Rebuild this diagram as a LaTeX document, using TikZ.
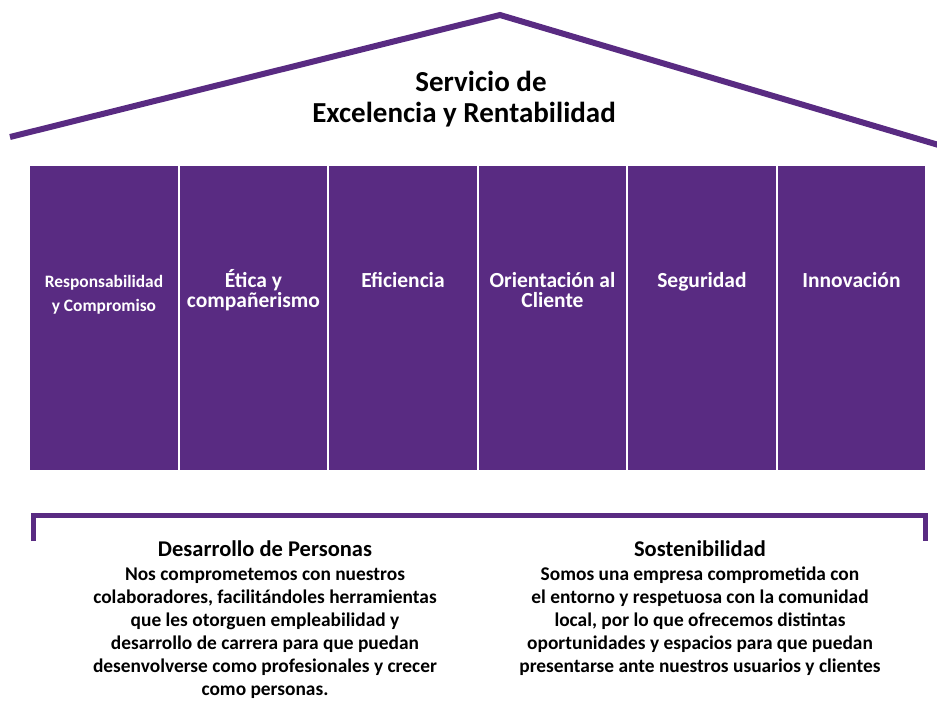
\documentclass[tikz,border=0pt]{standalone}
\usepackage{fontspec}
\setmainfont{Carlito}
\usetikzlibrary{positioning}
\definecolor{casa}{RGB}{89,43,130}
\begin{document}
\begin{tikzpicture}[x=1pt,y=-1pt,
  columna/.style={fill=casa,minimum width=147.5pt,minimum height=304pt,inner sep=0pt,anchor=north west},
  etiqueta/.style={text=white,align=center,anchor=north,inner sep=0pt,font=\bfseries\fontsize{21.5}{20}\selectfont},
  titulo/.style={align=center,inner sep=0pt,font=\bfseries\fontsize{22.5}{24}\selectfont},
  parrafo/.style={align=center,inner sep=0pt,anchor=north,font=\bfseries\fontsize{19.4}{23}\selectfont}]
\useasboundingbox (0,0) rectangle (937,702);
% techo
\coordinate (izq) at (10,137);
\coordinate (cima) at (500,15);
\coordinate (der) at (942,146);
\draw[casa,line width=6pt] (izq)--(cima)--(der);
\node[font=\bfseries\fontsize{29}{35}\selectfont] (lema1) at (481,81) {Servicio de};
\node[font=\bfseries\fontsize{29}{35}\selectfont] (lema2) at (464,115) {Excelencia y Rentabilidad};

% columnas
\foreach \i in {1,...,6}
  \node[columna] (c\i) at ({30+149.5*(\i-1)},166) {};
\node[etiqueta,font=\bfseries\fontsize{17.4}{24}\selectfont] (t1) at ([yshift=-109pt]c1.north) {Responsabilidad\\y Compromiso};
\node[etiqueta] (t2) at ([yshift=-103pt]c2.north) {Ética y\\compañerismo};
\node[etiqueta] (t3) at ([yshift=-106pt]c3.north) {Eficiencia};
\node[etiqueta] (t4) at ([yshift=-106pt]c4.north) {Orientación al\\Cliente};
\node[etiqueta] (t5) at ([yshift=-106pt]c5.north) {Seguridad};
\node[etiqueta] (t6) at ([yshift=-106pt]c6.north) {Innovación};

% base
\coordinate (b1) at (33,541);
\coordinate (b2) at (33,515);
\coordinate (b3) at (925,515);
\coordinate (b4) at (925,541);
\draw[casa,line width=5pt] (b1)--(b2)--(b3)--(b4);

\node[titulo] (personas) at (265,549) {Desarrollo de Personas};
\node[parrafo,below=7pt of personas] (textop) {\strut Nos comprometemos con nuestros\\colaboradores, facilitándoles herramientas\\que les otorguen empleabilidad y\\desarrollo de carrera para que puedan\\desenvolverse como profesionales y crecer\\como personas.};
\node[titulo] (sosten) at (700,549) {Sostenibilidad};
\node[parrafo,below=7pt of sosten] (textos) {\strut Somos una empresa comprometida con\\el entorno y respetuosa con la comunidad\\local, por lo que ofrecemos distintas\\oportunidades y espacios para que puedan\\presentarse ante nuestros usuarios y clientes};
\end{tikzpicture}
\end{document}
